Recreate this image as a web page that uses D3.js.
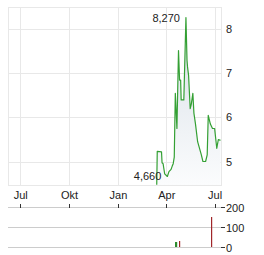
<!DOCTYPE html>
<html>
<head>
<meta charset="utf-8">
<script src="https://cdn.jsdelivr.net/npm/d3@7"></script>
<style>
    body { margin: 0; background: #fff; }
    text { font-family: "Liberation Sans", Arial, sans-serif; font-size: 11px; fill: #222; }
</style>
</head>
<body>
<div id="chart"></div>
<script>
// Datos del precio
var fechas = ["2024-03-14","2024-03-15","2024-03-23","2024-03-24","2024-03-26","2024-03-27","2024-03-29",
    "2024-04-03","2024-04-06","2024-04-10","2024-04-12","2024-04-14","2024-04-16","2024-04-18","2024-04-21",
    "2024-04-24","2024-04-26","2024-04-28","2024-04-29","2024-05-04","2024-05-08","2024-05-10","2024-05-11",
    "2024-05-13","2024-05-16","2024-05-18","2024-05-21","2024-05-23","2024-05-26","2024-05-30","2024-06-06",
    "2024-06-09","2024-06-14","2024-06-17","2024-06-19","2024-06-23","2024-06-27","2024-07-01","2024-07-05",
    "2024-07-08","2024-07-12"];
var precios = [4.47, 5.23, 5.22, 4.97, 4.95, 4.87, 4.72,
    4.66, 4.77, 4.82, 4.89, 4.95, 5.1, 6.55, 5.75,
    7.52, 6.85, 6.85, 6.4, 6.4, 8.27, 7.3, 7.15,
    6.95, 6.2, 6.3, 6.55, 6.1, 5.85, 5.45, 5.15,
    5.0, 5.0, 5.15, 6.05, 5.85, 5.75, 5.75, 5.3,
    5.5, 5.48];

// Volumen
var volFechas = ["2024-04-18", "2024-04-19", "2024-04-25", "2024-06-25"];
var volValores = [25, 25, 30, 150];
var volTipo = ["sube", "sube", "baja", "baja"];

// Ticks de los ejes
var mesesFechas = ["2023-07-01", "2023-10-01", "2024-01-01", "2024-04-01", "2024-07-01"];
var mesesNombres = ["Jul", "Okt", "Jan", "Apr", "Jul"];
var precioTicks = [5, 6, 7, 8];
var volTicks = [0, 100, 200];

// Etiquetas de máximo y mínimo
var etiquetaFechas = ["2024-05-08", "2024-04-03"];
var etiquetaValores = [8.27, 4.66];
var etiquetaTextos = ["8,270", "4,660"];

var parse = d3.timeParse("%Y-%m-%d");
var width = 264, height = 255;
var plotLeft = 8, plotRight = 221, plotTop = 7, plotBottom = 185;
var volTop = 207, volBottom = 247;

var svg = d3.select("#chart").append("svg")
    .attr("width", width)
    .attr("height", height);

// Escalas
var x = d3.scaleTime()
    .domain([parse("2023-06-08"), parse("2024-07-13")])
    .range([plotLeft, plotRight]);

var y = d3.scaleLinear()
    .domain([4.466, 8.511])
    .range([plotBottom, plotTop]);

var yVol = d3.scaleLinear()
    .domain([0, 200])
    .range([volBottom, volTop]);

var puntos = fechas.map(function(f, i) { return { fecha: parse(f), valor: precios[i] }; });

// Cuadrícula
var grid = svg.append("g").attr("stroke", "#e8e8e8").attr("stroke-width", 1);
mesesFechas.forEach(function(f) {
    var px = Math.round(x(parse(f))) + 0.5;
    grid.append("line").attr("x1", px).attr("x2", px).attr("y1", plotTop).attr("y2", plotBottom);
});
precioTicks.forEach(function(v) {
    var py = Math.round(y(v)) + 0.5;
    grid.append("line").attr("x1", plotLeft).attr("x2", plotRight).attr("y1", py).attr("y2", py);
});
grid.append("rect")
    .attr("x", plotLeft + 0.5).attr("y", plotTop + 0.5)
    .attr("width", plotRight - plotLeft).attr("height", plotBottom - plotTop)
    .attr("fill", "none");

// Degradado del área
var grad = svg.append("defs").append("linearGradient")
    .attr("id", "area-grad")
    .attr("gradientUnits", "userSpaceOnUse")
    .attr("x1", 0).attr("y1", plotTop).attr("x2", 0).attr("y2", plotBottom);
grad.append("stop").attr("offset", "0%").attr("stop-color", "#d5dde5");
grad.append("stop").attr("offset", "100%").attr("stop-color", "#fbfcfd");

var area = d3.area()
    .x(function(d) { return x(d.fecha); })
    .y0(plotBottom)
    .y1(function(d) { return y(d.valor); });

svg.append("path")
    .datum(puntos)
    .attr("fill", "url(#area-grad)")
    .attr("d", area);

var line = d3.line()
    .x(function(d) { return x(d.fecha); })
    .y(function(d) { return y(d.valor); });

svg.append("path")
    .datum(puntos)
    .attr("fill", "none")
    .attr("stroke", "#34a034")
    .attr("stroke-width", 1.2)
    .attr("stroke-linejoin", "round")
    .attr("d", line);

// Etiquetas máx / mín
etiquetaTextos.forEach(function(t, i) {
    svg.append("text")
        .attr("x", x(parse(etiquetaFechas[i])) - 6)
        .attr("y", y(etiquetaValores[i]) + 4)
        .attr("text-anchor", "end")
        .text(t);
});

// Eje derecho del precio
precioTicks.forEach(function(v) {
    svg.append("text")
        .attr("x", 226)
        .attr("y", y(v) + 4)
        .text(v);
});

// Eje x (meses)
mesesFechas.forEach(function(f, i) {
    svg.append("text")
        .attr("x", x(parse(f)) + 0.5)
        .attr("y", 199)
        .attr("text-anchor", "middle")
        .text(mesesNombres[i]);
});

// Panel de volumen
volTicks.forEach(function(v) {
    var py = Math.round(yVol(v)) + 0.5;
    svg.append("line")
        .attr("x1", plotLeft).attr("x2", plotRight)
        .attr("y1", py).attr("y2", py)
        .attr("stroke", "#cccccc");
    svg.append("line")
        .attr("x1", 221).attr("x2", 225)
        .attr("y1", py).attr("y2", py)
        .attr("stroke", "#333");
    svg.append("text")
        .attr("x", 226)
        .attr("y", py + 4)
        .text(v);
});

mesesFechas.forEach(function(f) {
    var px = Math.round(x(parse(f))) + 0.5;
    svg.append("line")
        .attr("x1", px).attr("x2", px)
        .attr("y1", volTop - 3).attr("y2", volTop + 1)
        .attr("stroke", "#333");
});

svg.selectAll(".vol")
    .data(volFechas)
    .enter().append("rect")
    .attr("class", "vol")
    .attr("x", function(d) { return Math.round(x(parse(d))); })
    .attr("width", 1.2)
    .attr("y", function(d, i) { return yVol(volValores[i]); })
    .attr("height", function(d, i) { return volBottom - yVol(volValores[i]); })
    .attr("fill", function(d, i) { return volTipo[i] === "sube" ? "#2e8b2e" : "#a0262a"; });
</script>
</body>
</html>
